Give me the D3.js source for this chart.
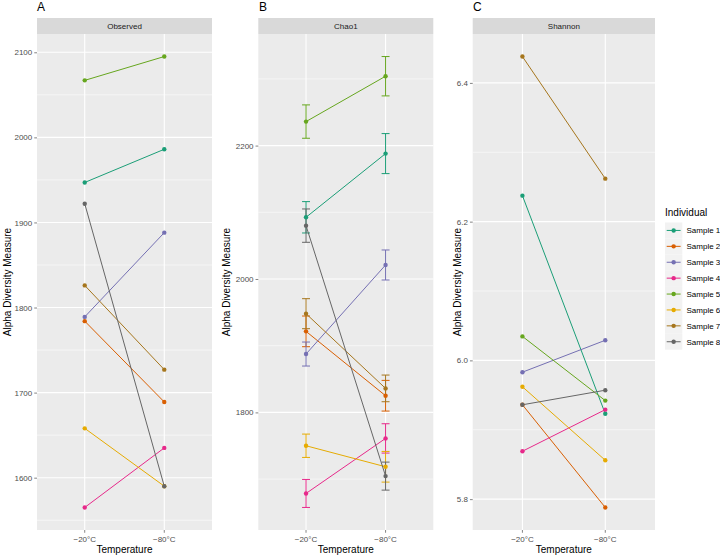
<!DOCTYPE html>
<html>
<head>
<meta charset="utf-8">
<script src="https://cdn.jsdelivr.net/npm/d3@7"></script>
<style>
  body { margin: 0; background: #fff; }
  svg { font-family: "Liberation Sans", Arial, sans-serif; }
</style>
</head>
<body>
<svg id="chart" width="720" height="555"></svg>
<script>
// categories
const individuals = ["Sample 1", "Sample 2", "Sample 3", "Sample 4", "Sample 5", "Sample 6", "Sample 7", "Sample 8"];
const temperatures = ["\u221220\u00b0C", "\u221280\u00b0C"];
const palette = ["#1B9E77", "#D95F02", "#7570B3", "#E7298A", "#66A61E", "#E6AB02", "#A6761D", "#666666"];

// Observed richness, [-20, -80] per individual
const observedValues = [
  [1947, 1986], [1784, 1689], [1789, 1888], [1565, 1635],
  [2067, 2095], [1658, 1590], [1826, 1727], [1922, 1590]
];

// Chao1 estimate and its standard error, [-20, -80]
const chao1Values = [
  [2092.5, 2188], [1921.5, 1825], [1887.5, 2021], [1678.5, 1761],
  [2236, 2304], [1750, 1718.5], [1948, 1836], [2080, 1704.5]
];
const chao1Se = [
  [23.5, 30], [23, 23], [18, 22.5], [21, 22],
  [25, 29.5], [17.5, 23], [22.5, 20], [25, 21]
];

// Shannon index, [-20, -80]
const shannonValues = [
  [6.2375, 5.923], [5.936, 5.788], [5.983, 6.029], [5.869, 5.929],
  [6.0346, 5.942], [5.962, 5.856], [6.438, 6.262], [5.936, 5.957]
];

// tick values
const observedTicks = [1600, 1700, 1800, 1900, 2000, 2100];
const chao1Ticks = [1800, 2000, 2200];
const shannonTicks = [5.8, 6.0, 6.2, 6.4];

const svg = d3.select("#chart");

const panelTop = 34, panelBottom = 530;

function drawPanel(opts) {
    const g = svg.append("g");
    const left = opts.left, right = opts.right;

    // row objects built from the arrays
    const rows = [];
    individuals.forEach((name, i) => {
        temperatures.forEach((t, j) => {
            const v = opts.values[i][j];
            const se = opts.se ? opts.se[i][j] : 0;
            rows.push({ name: name, idx: i, temp: t, value: v, lo: v - se, hi: v + se });
        });
    });

    const lo = d3.min(rows, d => d.lo), hi = d3.max(rows, d => d.hi);
    const pad = (hi - lo) * 0.05;

    const y = d3.scaleLinear().domain([lo - pad, hi + pad]).range([panelBottom, panelTop]);
    // discrete axis, 0.6 units of expansion on each side
    const x = d3.scaleOrdinal().domain(temperatures)
        .range(temperatures.map((t, i) => left + (i + 0.6) / 2.2 * (right - left)));
    const unit = (right - left) / 2.2;

    // panel background
    g.append("rect").attr("x", left).attr("y", panelTop)
        .attr("width", right - left).attr("height", panelBottom - panelTop)
        .attr("fill", "#EBEBEB");

    // minor grid
    const step = opts.ticks[1] - opts.ticks[0];
    const minor = [];
    for (let k = -1; k < opts.ticks.length; k++) {
        const m = opts.ticks[0] + step * (k + 0.5);
        if (y(m) >= panelTop && y(m) <= panelBottom) minor.push(m);
    }
    g.selectAll(".minor").data(minor).join("line")
        .attr("x1", left).attr("x2", right)
        .attr("y1", d => y(d)).attr("y2", d => y(d))
        .attr("stroke", "#fff").attr("stroke-width", 0.55);

    // major grid
    g.selectAll(".major").data(opts.ticks).join("line")
        .attr("x1", left).attr("x2", right)
        .attr("y1", d => y(d)).attr("y2", d => y(d))
        .attr("stroke", "#fff").attr("stroke-width", 1.1);
    g.selectAll(".vmajor").data(temperatures).join("line")
        .attr("x1", d => x(d)).attr("x2", d => x(d))
        .attr("y1", panelTop).attr("y2", panelBottom)
        .attr("stroke", "#fff").attr("stroke-width", 1.1);

    // strip
    g.append("rect").attr("x", left).attr("y", 18)
        .attr("width", right - left).attr("height", panelTop - 18)
        .attr("fill", "#D9D9D9");
    g.append("text").attr("x", (left + right) / 2).attr("y", 26)
        .attr("dy", "0.35em").attr("text-anchor", "middle")
        .attr("font-size", 8).attr("fill", "#1A1A1A").text(opts.strip);

    // panel letter
    g.append("text").attr("x", opts.letterX).attr("y", 11)
        .attr("font-size", 12).attr("fill", "#000").text(opts.letter);

    // y axis
    const yAxis = d3.axisLeft(y).tickValues(opts.ticks).tickSize(2.75).tickPadding(2)
        .tickFormat(opts.format);
    const ya = g.append("g").attr("transform", `translate(${left},0)`).call(yAxis);
    ya.select(".domain").remove();
    ya.selectAll(".tick line").attr("stroke", "#333333").attr("stroke-width", 0.6);
    ya.selectAll(".tick text").attr("fill", "#4D4D4D").attr("font-size", 8)
        .attr("font-family", "Liberation Sans, Arial, sans-serif");

    // x axis
    const xa = g.append("g").attr("transform", `translate(0,${panelBottom})`);
    xa.selectAll("line").data(temperatures).join("line")
        .attr("x1", d => x(d)).attr("x2", d => x(d))
        .attr("y1", 0).attr("y2", 2.75)
        .attr("stroke", "#333333").attr("stroke-width", 0.6);
    xa.selectAll("text").data(temperatures).join("text")
        .attr("x", d => x(d)).attr("y", 6.5).attr("dy", "0.71em")
        .attr("text-anchor", "middle").attr("font-size", 8).attr("fill", "#4D4D4D")
        .text(d => d);

    // axis titles
    g.append("text").attr("x", (left + right) / 2).attr("y", 549)
        .attr("dy", "0.35em").attr("text-anchor", "middle")
        .attr("font-size", 10).attr("fill", "#000").text("Temperature");
    g.append("text")
        .attr("transform", `translate(${opts.titleX},${(panelTop + panelBottom) / 2}) rotate(-90)`)
        .attr("dy", "0.35em").attr("text-anchor", "middle")
        .attr("font-size", 10).attr("fill", "#000").text("Alpha Diversity Measure");

    const byInd = d3.groups(rows, d => d.idx);

    // error bars, width 0.1 of a category
    if (opts.se) {
        const half = 0.05 * unit;
        const eb = g.append("g");
        rows.forEach(d => {
            const cx = x(d.temp), c = palette[d.idx];
            eb.append("line").attr("x1", cx).attr("x2", cx).attr("y1", y(d.lo)).attr("y2", y(d.hi))
                .attr("stroke", c).attr("stroke-width", 1);
            [d.lo, d.hi].forEach(v => {
                eb.append("line").attr("x1", cx - half).attr("x2", cx + half)
                    .attr("y1", y(v)).attr("y2", y(v))
                    .attr("stroke", c).attr("stroke-width", 1);
            });
        });
    }

    // lines
    const line = d3.line().x(d => x(d.temp)).y(d => y(d.value));
    g.selectAll(".series").data(byInd).join("path")
        .attr("d", d => line(d[1]))
        .attr("fill", "none").attr("stroke", d => palette[d[0]]).attr("stroke-width", 1);

    // points
    g.selectAll(".pt").data(rows).join("circle")
        .attr("cx", d => x(d.temp)).attr("cy", d => y(d.value)).attr("r", 2.2)
        .attr("fill", d => palette[d.idx]);
}

drawPanel({ left: 37, right: 212, values: observedValues, ticks: observedTicks,
    format: d3.format("d"), strip: "Observed", letter: "A", letterX: 37, titleX: 7 });
drawPanel({ left: 258.3, right: 433.3, values: chao1Values, se: chao1Se, ticks: chao1Ticks,
    format: d3.format("d"), strip: "Chao1", letter: "B", letterX: 259, titleX: 226 });
drawPanel({ left: 472.7, right: 655, values: shannonValues, ticks: shannonTicks,
    format: d3.format(".1f"), strip: "Shannon", letter: "C", letterX: 473, titleX: 457 });

// legend
const legend = svg.append("g").attr("transform", "translate(665,0)");
legend.append("text").attr("x", 0).attr("y", 216).attr("font-size", 10).attr("fill", "#000")
    .text("Individual");
const keySize = 15.9, keyTop = 222.5;
const items = legend.selectAll(".item").data(individuals).join("g")
    .attr("transform", (d, i) => `translate(0,${keyTop + i * keySize})`);
items.append("rect").attr("width", 17.3).attr("height", keySize).attr("fill", "#F2F2F2");
items.append("line").attr("x1", 1.7).attr("x2", 15.6)
    .attr("y1", keySize / 2).attr("y2", keySize / 2)
    .attr("stroke", (d, i) => palette[i]).attr("stroke-width", 1);
items.append("circle").attr("cx", 8.65).attr("cy", keySize / 2).attr("r", 2.2)
    .attr("fill", (d, i) => palette[i]);
items.append("text").attr("x", 21.5).attr("y", keySize / 2).attr("dy", "0.35em")
    .attr("font-size", 8).attr("fill", "#000").text(d => d);
</script>
</body>
</html>
